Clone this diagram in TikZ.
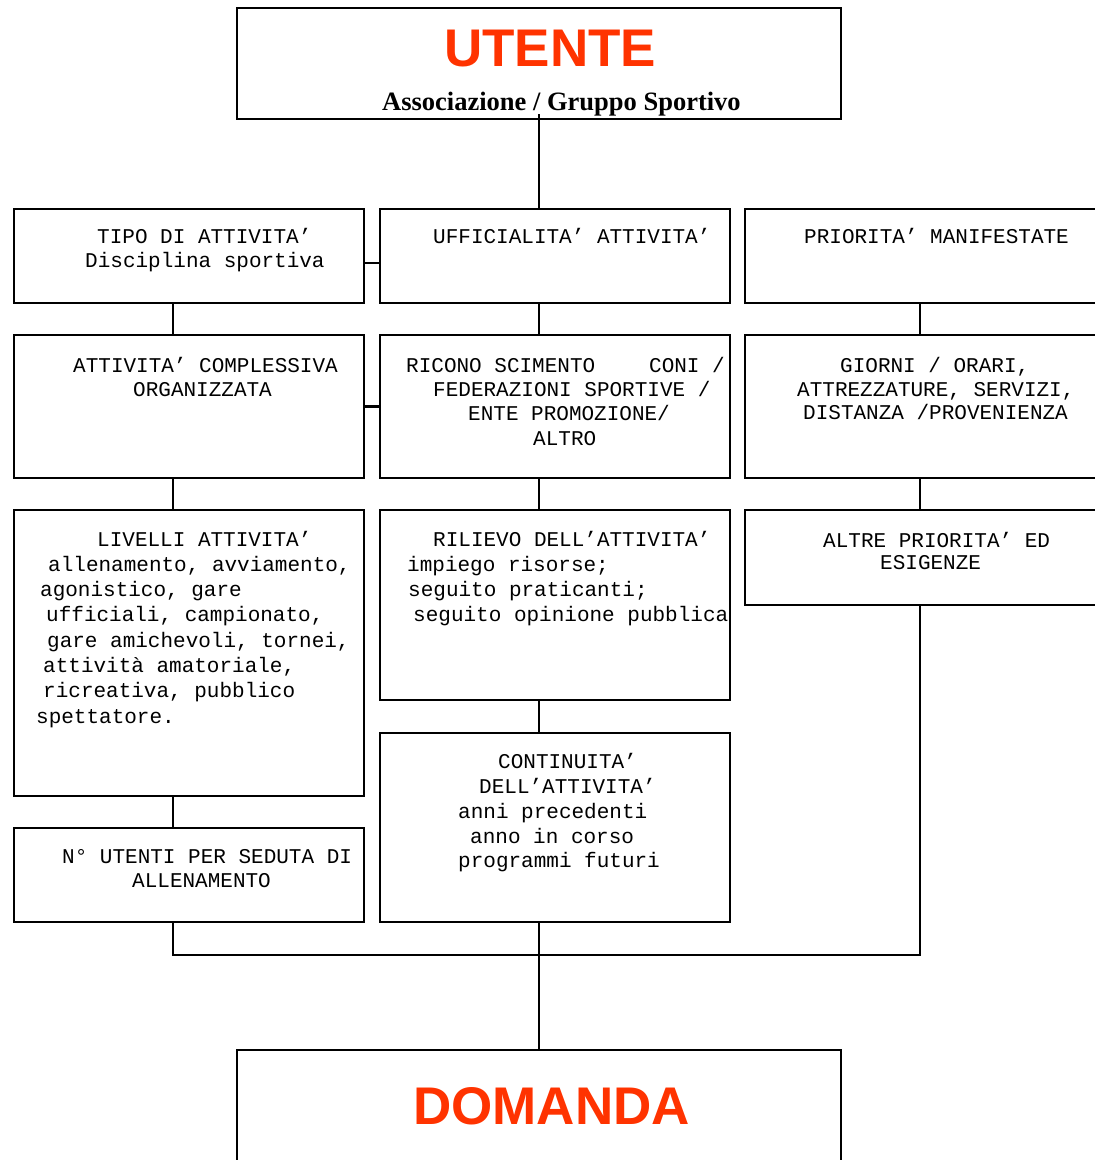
\documentclass[tikz,border=0pt]{standalone}
\usepackage{fontspec}
\setmainfont{Liberation Serif}
\newfontfamily\monofont{Liberation Mono}
\newfontfamily\headfont{Liberation Sans}
\definecolor{titlered}{RGB}{255,51,0}

\begin{document}
\begin{tikzpicture}[x=1pt,y=-1pt,
  box/.style={draw, rectangle, line width=2.6pt, inner sep=0pt},
  conn/.style={draw, line width=2.3pt},
  bus/.style={draw, line width=2pt},
  txt/.style={anchor=base west, inner sep=0pt, font=\monofont\fontsize{21}{25}\selectfont},
  title/.style={anchor=base, inner sep=0pt, text=titlered, font=\headfont\bfseries\fontsize{53}{60}\selectfont}
]
\useasboundingbox (0,0) rectangle (1095,1160);

% column guides for connectors
\coordinate (cl) at (173,0);
\coordinate (cm) at (539,0);
\coordinate (cr) at (920,0);
\coordinate (busy) at (0,955);

% top and bottom boxes
\node[box, minimum width=604pt, minimum height=111pt] (utente) at (539,63.5) {};
\node[box, line width=2pt, minimum width=604pt, minimum height=125pt] (domanda) at (539,1112.5) {};

% left column
\node[box, minimum width=350pt, minimum height=94pt]  (tipo)    at (189,256) {};
\node[box, minimum width=350pt, minimum height=143pt] (compl)   at (189,406.5) {};
\node[box, minimum width=350pt, minimum height=286pt] (livelli) at (189,653) {};
\node[box, minimum width=350pt, minimum height=94pt]  (nutenti) at (189,875) {};

% middle column
\node[box, minimum width=350pt, minimum height=94pt]  (uff)     at (555,256) {};
\node[box, minimum width=350pt, minimum height=143pt] (ricon)   at (555,406.5) {};
\node[box, minimum width=350pt, minimum height=190pt] (rilievo) at (555,605) {};
\node[box, minimum width=350pt, minimum height=189pt] (cont)    at (555,827.5) {};

% right column
\node[box, minimum width=365pt, minimum height=94pt]  (prio)    at (927.5,256) {};
\node[box, minimum width=365pt, minimum height=143pt] (giorni)  at (927.5,406.5) {};
\node[box, minimum width=365pt, minimum height=95pt]  (altre)   at (927.5,557.5) {};

% titles
\node[title] (utente-t) at (550,66) {UTENTE};
\node[anchor=base west, inner sep=0pt, font=\bfseries\fontsize{26.5}{30}\selectfont] (utente-s) at (382,110) {Associazione / Gruppo Sportivo};
\node[title] (domanda-t) at (551.5,1124) {DOMANDA};

% left column texts
\node[txt] (tipo-1) at (97,243) {TIPO DI ATTIVITA’};
\node[txt] (tipo-2) at (85,267) {Disciplina sportiva};
\node[txt] (compl-1) at (73,372) {ATTIVITA’ COMPLESSIVA};
\node[txt] (compl-2) at (133,396) {ORGANIZZATA};
\node[txt] (liv-1) at (97,546) {LIVELLI ATTIVITA’};
\node[txt] (liv-2) at (48,571) {allenamento, avviamento,};
\node[txt] (liv-3) at (40,596) {agonistico, gare};
\node[txt] (liv-4) at (46,621) {ufficiali, campionato,};
\node[txt] (liv-5) at (47,647) {gare amichevoli, tornei,};
\node[txt] (liv-6) at (43,672) {attività amatoriale,};
\node[txt] (liv-7) at (43,697) {ricreativa, pubblico};
\node[txt] (liv-8) at (36,723) {spettatore.};
\node[txt] (nut-1) at (62,863) {N° UTENTI PER SEDUTA DI};
\node[txt] (nut-2) at (132,887) {ALLENAMENTO};

% middle column texts
\node[txt] (uff-1) at (433,243) {UFFICIALITA’ ATTIVITA’};
\node[txt] (ric-1) at (406,372) {RICONO SCIMENTO\hspace*{54pt}CONI /};
\node[txt] (ric-2) at (433,396) {FEDERAZIONI SPORTIVE /};
\node[txt] (ric-3) at (468,420) {ENTE PROMOZIONE/};
\node[txt] (ric-4) at (533,445) {ALTRO};
\node[txt] (ril-1) at (433,546) {RILIEVO DELL’ATTIVITA’};
\node[txt] (ril-2) at (407,571) {impiego risorse;};
\node[txt] (ril-3) at (408,596) {seguito praticanti;};
\node[txt] (ril-4) at (413,621) {seguito opinione pubblica};
\node[txt] (con-1) at (498,768) {CONTINUITA’};
\node[txt] (con-2) at (479,793) {DELL’ATTIVITA’};
\node[txt] (con-3) at (458,818) {anni precedenti};
\node[txt] (con-4) at (470,843) {anno in corso};
\node[txt] (con-5) at (458,867) {programmi futuri};

% right column texts
\node[txt] (pri-1) at (804,243) {PRIORITA’ MANIFESTATE};
\node[txt] (gio-1) at (840,372) {GIORNI / ORARI,};
\node[txt] (gio-2) at (797,396) {ATTREZZATURE, SERVIZI,};
\node[txt] (gio-3) at (803,419) {DISTANZA /PROVENIENZA};
\node[txt] (alt-1) at (823,547) {ALTRE PRIORITA’ ED};
\node[txt] (alt-2) at (880,569) {ESIGENZE};

% connectors
\draw[conn] ([yshift=6pt]utente.south -| cm) -- (uff.north -| cm);
\draw[conn] ([yshift=-7pt]tipo.east) -- ([yshift=-7pt]uff.west);
\draw[conn] (compl.east) -- (ricon.west);

\draw[conn] (tipo.south -| cl) -- (compl.north -| cl);
\draw[conn] (compl.south -| cl) -- (livelli.north -| cl);
\draw[conn] (livelli.south -| cl) -- (nutenti.north -| cl);

\draw[conn] (uff.south -| cm) -- (ricon.north -| cm);
\draw[conn] (ricon.south -| cm) -- (rilievo.north -| cm);
\draw[conn] (rilievo.south -| cm) -- (cont.north -| cm);

\draw[conn] (prio.south -| cr) -- (giorni.north -| cr);
\draw[conn] (giorni.south -| cr) -- (altre.north -| cr);

% collecting line towards the demand box
\draw[bus] (nutenti.south -| cl) -- (cl |- busy) -- (cr |- busy) -- (altre.south -| cr);
\draw[bus] (cont.south -| cm) -- (domanda.north -| cm);
\end{tikzpicture}
\end{document}
